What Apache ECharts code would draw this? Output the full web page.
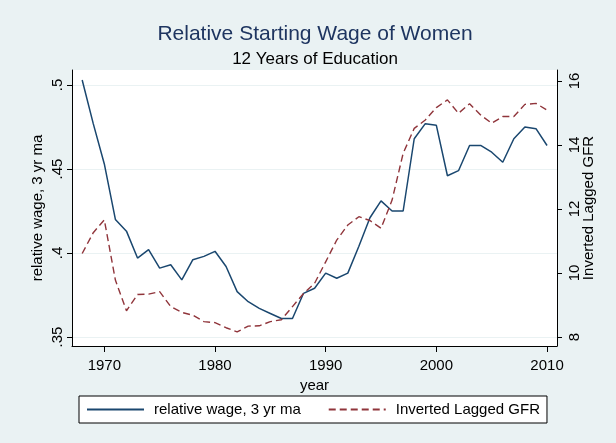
<!DOCTYPE html>
<html>
<head>
<meta charset="utf-8">
<script src="https://cdn.jsdelivr.net/npm/echarts@6/dist/echarts.min.js"></script>
<style>
  html, body { margin: 0; padding: 0; background: #eaf2f3; }
  #chart { width: 616px; height: 443px; }
</style>
</head>
<body>
<div id="chart"></div>
<script>
// years 1968 - 2010
var years = [1968, 1969, 1970, 1971, 1972, 1973, 1974, 1975, 1976, 1977,
  1978, 1979, 1980, 1981, 1982, 1983, 1984, 1985, 1986, 1987,
  1988, 1989, 1990, 1991, 1992, 1993, 1994, 1995, 1996, 1997,
  1998, 1999, 2000, 2001, 2002, 2003, 2004, 2005, 2006, 2007,
  2008, 2009, 2010];

// relative wage, 3 yr ma (left axis)
var wage = [0.503, 0.477, 0.453, 0.420, 0.413, 0.397, 0.402, 0.391, 0.393, 0.384,
  0.396, 0.398, 0.401, 0.392, 0.377, 0.371, 0.367, 0.364, 0.361, 0.361,
  0.376, 0.379, 0.388, 0.385, 0.388, 0.404, 0.421, 0.431, 0.425, 0.425,
  0.468, 0.477, 0.476, 0.446, 0.449, 0.464, 0.464, 0.460, 0.454, 0.468,
  0.475, 0.474, 0.464];

// Inverted Lagged GFR (right axis)
var gfr = [10.61, 11.26, 11.66, 9.78, 8.82, 9.33, 9.34, 9.42, 8.95, 8.77,
  8.68, 8.48, 8.45, 8.29, 8.16, 8.34, 8.35, 8.48, 8.54, 8.95,
  9.36, 9.68, 10.35, 11.03, 11.5, 11.76, 11.64, 11.4, 12.28, 13.74,
  14.52, 14.78, 15.17, 15.41, 14.99, 15.29, 14.94, 14.68, 14.89, 14.89,
  15.27, 15.3, 15.09];

// tick labels
var xTicks = [1970, 1980, 1990, 2000, 2010];
var leftTicks = [0.35, 0.4, 0.45, 0.5];
var rightTicks = [8, 10, 12, 14, 16];

var font = "'Liberation Sans', Arial, sans-serif";

function pairs(xs, ys) {
  return xs.map(function (x, i) { return [x, ys[i]]; });
}

var myChart = echarts.init(document.getElementById('chart'));

var option = {
  backgroundColor: '#eaf2f3',
  animation: false,
  textStyle: { fontFamily: font },
  title: [{
    text: 'Relative Starting Wage of Women',
    left: 315,
    top: 24,
    textAlign: 'center',
    padding: 0,
    textStyle: { fontSize: 21, fontWeight: 'normal', color: '#1e3560', fontFamily: font }
  }, {
    text: '12 Years of Education',
    left: 315,
    top: 51,
    textAlign: 'center',
    padding: 0,
    textStyle: { fontSize: 17, fontWeight: 'normal', color: '#000', fontFamily: font }
  }],
  legend: {
    left: 79,
    top: 396,
    padding: [6, 7, 6, 7],
    itemGap: 27,
    itemWidth: 57,
    itemHeight: 14,
    backgroundColor: '#fff',
    borderColor: '#000',
    borderWidth: 1,
    borderRadius: 0,
    itemStyle: { opacity: 0 },
    textStyle: { fontSize: 15, color: '#000', fontFamily: font, padding: [0, 0, 0, 5] },
    data: ['relative wage, 3 yr ma', 'Inverted Lagged GFR']
  },
  grid: {
    left: 72,
    right: 59,
    top: 70,
    bottom: 97,
    show: true,
    backgroundColor: '#fff',
    borderWidth: 0
  },
  xAxis: {
    type: 'value',
    min: 1967.08,
    max: 2010.9,
    name: 'year',
    nameLocation: 'middle',
    nameGap: 25,
    nameTextStyle: { fontSize: 15, color: '#000' },
    axisLine: { show: true, lineStyle: { color: '#000', width: 1 } },
    axisTick: { show: true, length: 6, lineStyle: { color: '#000' }, customValues: xTicks },
    axisLabel: {
      fontSize: 15, color: '#000', margin: 12, customValues: xTicks,
      formatter: function (v) { return String(v); }
    },
    splitLine: { show: false }
  },
  yAxis: [{
    type: 'value',
    position: 'left',
    min: 0.34464,
    max: 0.50893,
    name: 'relative wage, 3 yr ma',
    nameLocation: 'middle',
    nameGap: 27,
    nameMoveOverlap: false,
    nameTextStyle: { fontSize: 15, color: '#000' },
    axisLine: { show: true, lineStyle: { color: '#000', width: 1 } },
    axisTick: { show: true, length: 5, lineStyle: { color: '#000' }, customValues: leftTicks },
    axisLabel: {
      fontSize: 15, color: '#000', rotate: 90, margin: 7,
      customValues: leftTicks,
      formatter: function (v) { return String(v).replace('0.', '.'); }
    },
    splitLine: { show: true, lineStyle: { color: '#eaf2f3', width: 1 } }
  }, {
    type: 'value',
    position: 'right',
    min: 7.719,
    max: 16.344,
    name: 'Inverted Lagged GFR',
    nameLocation: 'middle',
    nameGap: 24,
    nameMoveOverlap: false,
    nameTextStyle: { fontSize: 15, color: '#000' },
    axisLine: { show: true, lineStyle: { color: '#000', width: 1 } },
    axisTick: { show: true, length: 5, lineStyle: { color: '#000' }, customValues: rightTicks },
    axisLabel: { fontSize: 15, color: '#000', rotate: 90, margin: 10, customValues: rightTicks },
    splitLine: { show: false }
  }],
  series: [{
    name: 'relative wage, 3 yr ma',
    type: 'line',
    yAxisIndex: 0,
    symbol: 'none',
    data: pairs(years, wage),
    lineStyle: { color: '#1a476f', width: 1.5 },
    itemStyle: { color: '#1a476f' }
  }, {
    name: 'Inverted Lagged GFR',
    type: 'line',
    yAxisIndex: 1,
    symbol: 'none',
    data: pairs(years, gfr),
    lineStyle: { color: '#90353b', width: 1.4, type: [7, 4] },
    itemStyle: { color: '#90353b' }
  }]
};

myChart.setOption(option);
</script>
</body>
</html>
